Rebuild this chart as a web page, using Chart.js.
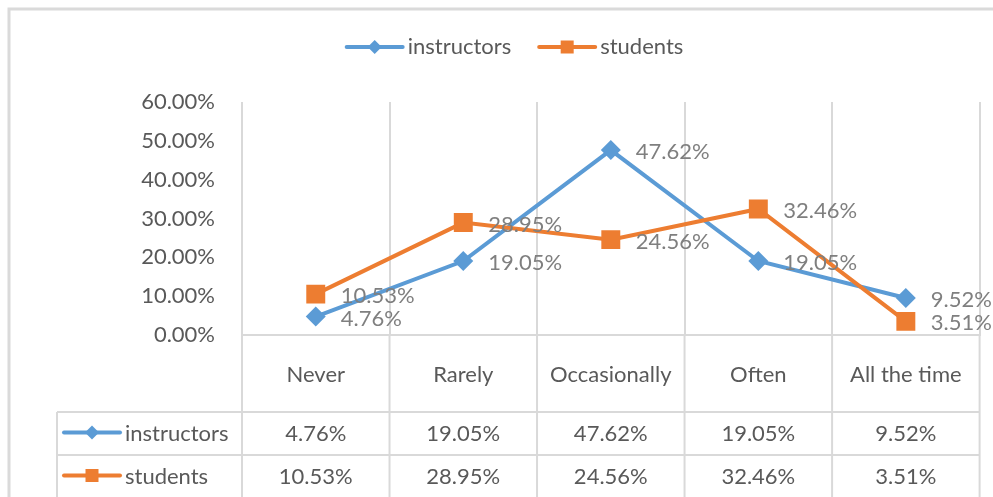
<!DOCTYPE html>
<html>
<head>
<meta charset="utf-8">
<script src="https://cdn.jsdelivr.net/npm/chart.js@4.4.1/dist/chart.umd.min.js"></script>
<style>
  html, body { margin: 0; padding: 0; background: #fff; }
  #wrap { width: 993px; height: 497px; }
</style>
</head>
<body>
<div id="wrap"><canvas id="chart" width="993" height="497"></canvas></div>
<script>
// Data
const categories = ['Never', 'Rarely', 'Occasionally', 'Often', 'All the time'];
const instructors = [4.76, 19.05, 47.62, 19.05, 9.52];
const students = [10.53, 28.95, 24.56, 32.46, 3.51];
const yTicks = [0, 10, 20, 30, 40, 50, 60];

const BLUE = '#5B9BD5';
const ORANGE = '#ED7D31';
const TEXT = '#595959';
const LABEL = '#7F7F7F';
const GRID = '#D9D9D9';
const FONT = 'Lato, "Open Sans", sans-serif';
const FSIZE = 22;

const fmt = v => v.toFixed(2) + '%';

// little legend key: line with marker in the middle
function drawKey(ctx, x, y, color, style) {
    ctx.save();
    ctx.strokeStyle = color;
    ctx.fillStyle = color;
    ctx.lineWidth = 4;
    ctx.lineCap = 'round';
    ctx.beginPath();
    ctx.moveTo(x, y);
    ctx.lineTo(x + 56, y);
    ctx.stroke();
    const cx = x + 28;
    ctx.beginPath();
    if (style === 'rectRot') {
        ctx.moveTo(cx - 7, y);
        ctx.lineTo(cx, y - 7);
        ctx.lineTo(cx + 7, y);
        ctx.lineTo(cx, y + 7);
        ctx.closePath();
    } else {
        ctx.rect(cx - 6.5, y - 6.5, 13, 13);
    }
    ctx.fill();
    ctx.restore();
}

const tablePlugin = {
    id: 'excelTable',
    beforeDraw(chart) {
        const ctx = chart.ctx;
        ctx.save();
        ctx.fillStyle = '#fff';
        ctx.fillRect(0, 0, chart.width, chart.height);
        // outer chart border
        ctx.strokeStyle = '#DADADA';
        ctx.lineWidth = 3;
        ctx.beginPath();
        ctx.moveTo(9, chart.height);
        ctx.lineTo(9, 9);
        ctx.lineTo(chart.width, 9);
        ctx.stroke();
        ctx.restore();
    },
    afterDatasetsDraw(chart) {
        const ctx = chart.ctx;
        ctx.save();
        ctx.font = FSIZE + 'px ' + FONT;
        ctx.fillStyle = LABEL;
        ctx.textAlign = 'left';
        ctx.textBaseline = 'middle';
        chart.data.datasets.forEach((ds, di) => {
            const meta = chart.getDatasetMeta(di);
            meta.data.forEach((pt, i) => {
                ctx.fillText(fmt(ds.data[i]), pt.x + 25, pt.y + 2);
            });
        });
        ctx.restore();
    },
    afterDraw(chart) {
        const ctx = chart.ctx;
        const area = chart.chartArea;
        const xs = chart.scales.x;
        const colW = (area.right - area.left) / categories.length;
        const headBottom = area.bottom + 77;
        const rowH = 43;
        const keyLeft = 57;
        const bottom = chart.height + 2;

        ctx.save();
        ctx.strokeStyle = GRID;
        ctx.lineWidth = 2;

        // column lines through the table
        for (let i = 0; i <= categories.length; i++) {
            const x = area.left + i * colW;
            ctx.beginPath();
            ctx.moveTo(x, area.bottom);
            ctx.lineTo(x, bottom);
            ctx.stroke();
        }
        // left edge of the series column
        ctx.beginPath();
        ctx.moveTo(keyLeft, headBottom);
        ctx.lineTo(keyLeft, bottom);
        ctx.stroke();
        // row lines
        [headBottom, headBottom + rowH].forEach(y => {
            ctx.beginPath();
            ctx.moveTo(keyLeft, y);
            ctx.lineTo(area.right, y);
            ctx.stroke();
        });

        ctx.font = FSIZE + 'px ' + FONT;
        ctx.fillStyle = TEXT;
        ctx.textBaseline = 'middle';
        ctx.textAlign = 'center';

        // category header
        categories.forEach((c, i) => {
            ctx.fillText(c, xs.getPixelForValue(i), area.bottom + 40);
        });

        // series rows
        chart.data.datasets.forEach((ds, di) => {
            const y = headBottom + rowH * di + rowH / 2;
            ctx.textAlign = 'center';
            ds.data.forEach((v, i) => {
                ctx.fillText(fmt(v), xs.getPixelForValue(i), y);
            });
            drawKey(ctx, 64, y - 1, ds.borderColor, ds.pointStyle);
            ctx.textAlign = 'left';
            ctx.fillText(ds.label, 125, y);
        });

        // top legend
        const center = 515;
        const widths = chart.data.datasets.map(ds => 56 + 5 + ctx.measureText(ds.label).width);
        const gap = 28;
        let x = center - (widths.reduce((a, b) => a + b, 0) + gap) / 2;
        chart.data.datasets.forEach((ds, di) => {
            drawKey(ctx, x, 47, ds.borderColor, ds.pointStyle);
            ctx.textAlign = 'left';
            ctx.fillText(ds.label, x + 61, 47);
            x += widths[di] + gap;
        });

        ctx.restore();
    }
};

new Chart(document.getElementById('chart'), {
    type: 'line',
    data: {
        labels: categories,
        datasets: [
            {
                label: 'instructors',
                data: instructors,
                borderColor: BLUE,
                backgroundColor: BLUE,
                borderWidth: 4,
                pointStyle: 'rectRot',
                pointRadius: 10,
                pointBorderWidth: 0,
                tension: 0,
                order: 1
            },
            {
                label: 'students',
                data: students,
                borderColor: ORANGE,
                backgroundColor: ORANGE,
                borderWidth: 4,
                pointStyle: 'rect',
                pointRadius: 13.4,
                pointBorderWidth: 0,
                tension: 0,
                order: 0
            }
        ]
    },
    options: {
        responsive: false,
        animation: false,
        layout: { padding: { top: 102, left: 0, right: 13, bottom: 162 } },
        plugins: {
            legend: { display: false },
            tooltip: { enabled: false }
        },
        scales: {
            x: {
                offset: true,
                grid: { offset: true, color: GRID, lineWidth: 2, drawTicks: false },
                border: { display: true, color: GRID, width: 2 },
                ticks: { display: false },
                afterFit: s => { s.height = 0; }
            },
            y: {
                min: 0,
                max: 60,
                afterBuildTicks: axis => { axis.ticks = yTicks.map(v => ({ value: v })); },
                grid: { display: false, drawTicks: false },
                border: { display: false },
                ticks: {
                    padding: 27,
                    color: TEXT,
                    font: { family: FONT, size: FSIZE },
                    callback: v => fmt(v)
                },
                afterFit: s => { s.width = 242; }
            }
        }
    },
    plugins: [tablePlugin]
});
</script>
</body>
</html>
